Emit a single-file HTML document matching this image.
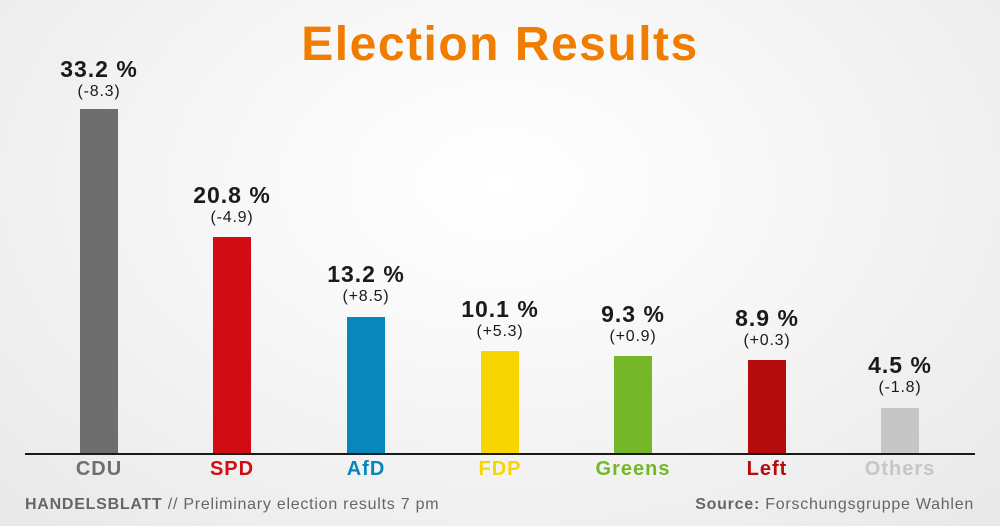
<!DOCTYPE html>
<html><head><meta charset="utf-8"><style>
body{margin:0}
.c{position:relative;width:1000px;height:526px;overflow:hidden;font-family:"Liberation Sans",sans-serif;background:radial-gradient(ellipse at 50% 35%,#ffffff 0%,#f7f7f7 40%,#e8e8e8 100%)}
.t{position:absolute;left:0;width:1000px;top:17px;text-align:center;font-size:48px;font-weight:bold;color:#f07d00;letter-spacing:1.5px}
.b{position:absolute;width:38px;bottom:72px}
.v{position:absolute;width:140px;text-align:center;font-weight:bold;font-size:23px;color:#1a1a1a;letter-spacing:1px}
.d{position:absolute;width:140px;text-align:center;font-size:16px;color:#1a1a1a;letter-spacing:0.8px}
.n{position:absolute;width:140px;text-align:center;font-weight:bold;font-size:20px;top:458px;letter-spacing:1px}
.ax{position:absolute;left:25px;width:950px;top:453px;height:2px;background:#1a1a1a}
.f{position:absolute;top:496px;font-size:16px;color:#666;letter-spacing:0.75px}
</style></head><body><div class="c">
<div class="t">Election Results</div>
<div class="b" style="left:80px;top:109px;background:#6f6e6e"></div>
<div class="b" style="left:213px;top:237px;background:#d20c13"></div>
<div class="b" style="left:347px;top:317px;background:#0888ba"></div>
<div class="b" style="left:481px;top:351px;background:#f7d500"></div>
<div class="b" style="left:614px;top:356px;background:#76b72a"></div>
<div class="b" style="left:748px;top:360px;background:#b50c0e"></div>
<div class="b" style="left:881px;top:408px;background:#c7c6c6"></div>
<div class="ax"></div>
<div class="v" style="left:29px;top:56px">33.2 %</div><div class="d" style="left:29px;top:83px">(-8.3)</div>
<div class="v" style="left:162px;top:182px">20.8 %</div><div class="d" style="left:162px;top:209px">(-4.9)</div>
<div class="v" style="left:296px;top:261px">13.2 %</div><div class="d" style="left:296px;top:288px">(+8.5)</div>
<div class="v" style="left:430px;top:296px">10.1 %</div><div class="d" style="left:430px;top:323px">(+5.3)</div>
<div class="v" style="left:563px;top:301px">9.3 %</div><div class="d" style="left:563px;top:328px">(+0.9)</div>
<div class="v" style="left:697px;top:305px">8.9 %</div><div class="d" style="left:697px;top:332px">(+0.3)</div>
<div class="v" style="left:830px;top:352px">4.5 %</div><div class="d" style="left:830px;top:379px">(-1.8)</div>
<div class="n" style="left:29px;color:#6f6e6e">CDU</div>
<div class="n" style="left:162px;color:#d20c13">SPD</div>
<div class="n" style="left:296px;color:#0888ba">AfD</div>
<div class="n" style="left:430px;color:#f7d500">FDP</div>
<div class="n" style="left:563px;color:#76b72a">Greens</div>
<div class="n" style="left:697px;color:#b50c0e">Left</div>
<div class="n" style="left:830px;color:#c7c6c6">Others</div>
<div class="f" style="left:25px"><b>HANDELSBLATT</b> // Preliminary election results 7 pm</div>
<div class="f" style="right:26px"><b>Source:</b> Forschungsgruppe Wahlen</div>
</div></body></html>
